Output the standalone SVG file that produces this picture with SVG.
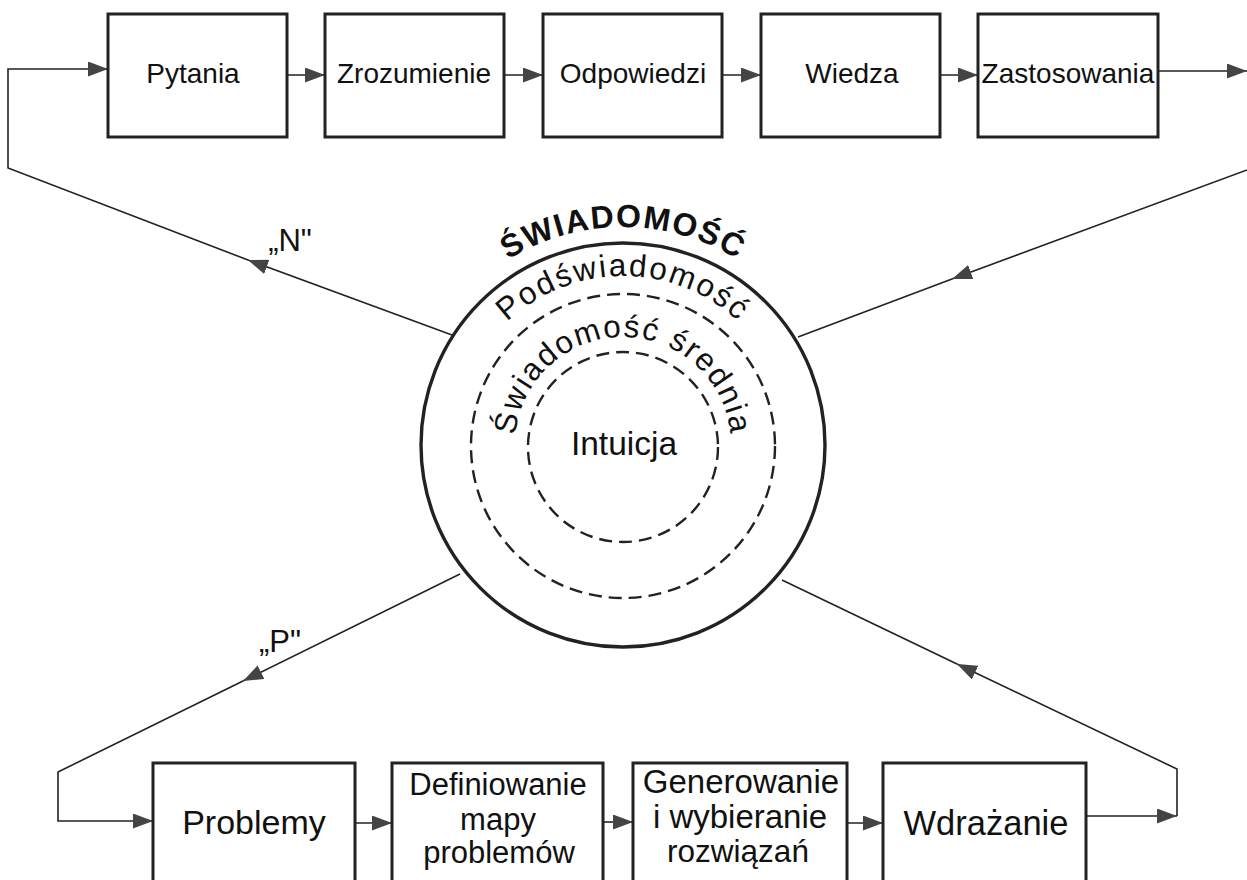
<svg xmlns="http://www.w3.org/2000/svg" xmlns:xlink="http://www.w3.org/1999/xlink" width="1247" height="880" viewBox="0 0 1247 880">
<style>
.box{fill:#fff;stroke:#222;stroke-width:3}
.lbl{font-family:"Liberation Sans",Arial,sans-serif;fill:#111;text-anchor:middle}
.t28{font-size:28px}
.t31{font-size:31px}
.con{fill:none;stroke:#222;stroke-width:1.6}
.arr{marker-end:url(#ah)}
.ring{fill:none;stroke:#222;stroke-width:3.4}
.dash{fill:none;stroke:#222;stroke-width:2.4;stroke-dasharray:13 7}
.arc{font-family:"Liberation Sans",Arial,sans-serif;fill:#111}
</style>
<defs>
<marker id="ah" viewBox="0 0 20 15" refX="20" refY="7.5" markerWidth="20" markerHeight="15" markerUnits="userSpaceOnUse" orient="auto">
<path d="M0,0 L20,7.5 L0,15 z" fill="#444"/>
</marker>
<path id="arcOuter" d="M418.14,519.56 A218,218 0 1,1 827.86,519.56"/>
<path id="arcPod" d="M464.19,502.80 A169,169 0 1,1 781.81,502.80"/>
<path id="arcSr" d="M521.51,481.94 A108,108 0 1,1 724.49,481.94"/>
</defs>
<rect width="1247" height="880" fill="#fff"/>

<g id="connectors">
<path class="con arr" d="M287,75 L325,75"/>
<path class="con arr" d="M504,75 L543,75"/>
<path class="con arr" d="M722,75 L761,75"/>
<path class="con arr" d="M940,75 L978,75"/>
<path class="con arr" d="M1158,71 L1247,71"/>
<path class="con arr" d="M1247,170 L952,279"/>
<path class="con" d="M952,279 L798,337"/>
<path class="con arr" d="M452,335 L248,260"/>
<path class="con arr" d="M248,260 L8,168 L8,69 L108,69"/>
<path class="con arr" d="M460,574 L243,681"/>
<path class="con arr" d="M243,681 L58,772 L58,821 L153,821"/>
<path class="con arr" d="M355,823 L392,823"/>
<path class="con arr" d="M603,822 L633,822"/>
<path class="con arr" d="M847,823 L883,823"/>
<path class="con arr" d="M1086,816 L1177,816"/>
<path class="con arr" d="M1177,816 L1177,769 L957,664"/>
<path class="con" d="M957,664 L782,580"/>
<text class="lbl t31" x="290" y="251">„N"</text>
<text class="lbl t31" x="280" y="652">„P"</text>
</g>

<g id="node-pytania">
<rect class="box" x="108" y="14" width="179" height="123"/>
<text class="lbl t28" x="193" y="83">Pytania</text>
</g>
<g id="node-zrozumienie">
<rect class="box" x="325" y="14" width="179" height="123"/>
<text class="lbl t28" x="414" y="83">Zrozumienie</text>
</g>
<g id="node-odpowiedzi">
<rect class="box" x="543" y="14" width="179" height="123"/>
<text class="lbl t28" x="633" y="83">Odpowiedzi</text>
</g>
<g id="node-wiedza">
<rect class="box" x="761" y="14" width="179" height="123"/>
<text class="lbl t28" x="852" y="83">Wiedza</text>
</g>
<g id="node-zastosowania">
<rect class="box" x="978" y="14" width="180" height="123"/>
<text class="lbl t28" x="1068" y="83">Zastosowania</text>
</g>

<g id="node-swiadomosc">
<circle class="ring" cx="623" cy="445" r="202"/>
<circle class="dash" cx="623" cy="446" r="152"/>
<circle class="dash" cx="623" cy="447" r="95"/>
<text class="arc" font-size="32" font-weight="bold" letter-spacing="1.5" text-anchor="middle"><textPath xlink:href="#arcOuter" href="#arcOuter" startOffset="50%">ŚWIADOMOŚĆ</textPath></text>
<text class="arc" font-size="31.5" letter-spacing="2" text-anchor="middle"><textPath xlink:href="#arcPod" href="#arcPod" startOffset="50%">Podświadomość</textPath></text>
<text class="arc" font-size="31.5" letter-spacing="1.6" text-anchor="middle"><textPath xlink:href="#arcSr" href="#arcSr" startOffset="50%">Świadomość średnia</textPath></text>
<text class="lbl" font-size="33.5" x="624" y="455">Intuicja</text>
</g>

<g id="node-problemy">
<rect class="box" x="153" y="763" width="202" height="130"/>
<text class="lbl" font-size="34" x="254" y="834">Problemy</text>
</g>
<g id="node-definiowanie">
<rect class="box" x="392" y="763" width="211" height="130"/>
<text class="lbl t31" x="498" y="795">Definiowanie</text>
<text class="lbl t31" x="498" y="830">mapy</text>
<text class="lbl t31" x="499" y="863">problemów</text>
</g>
<g id="node-generowanie">
<rect class="box" x="633" y="763" width="214" height="130"/>
<text class="lbl" font-size="33" x="741" y="793">Generowanie</text>
<text class="lbl" font-size="33" x="740" y="828">i wybieranie</text>
<text class="lbl" font-size="31.5" x="738" y="862">rozwiązań</text>
</g>
<g id="node-wdrazanie">
<rect class="box" x="883" y="763" width="203" height="130"/>
<text class="lbl" font-size="34.5" x="986" y="835">Wdrażanie</text>
</g>
</svg>
